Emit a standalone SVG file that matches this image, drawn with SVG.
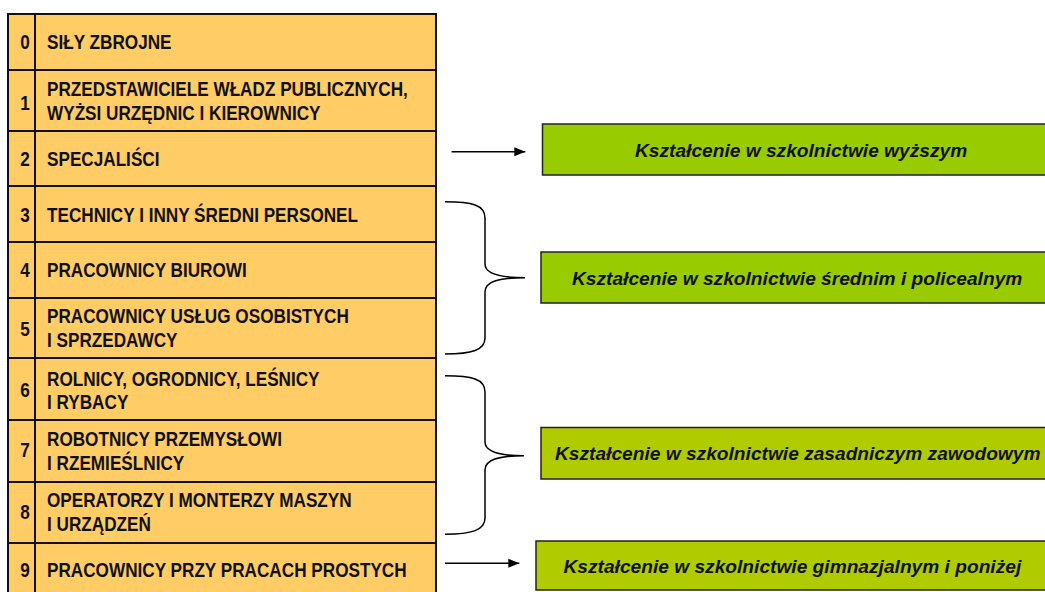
<svg xmlns="http://www.w3.org/2000/svg" width="1045" height="592" viewBox="0 0 1045 592">
<style>
.cell{fill:#FFCC66;stroke:#111;stroke-width:2}
.t{font-family:"Liberation Sans",Arial,sans-serif;font-weight:bold;font-size:19.5px;fill:#111}
.n{text-anchor:middle}
.box{stroke:#222;stroke-width:1.5}
.g1{fill:#99CC00}
.g2{fill:#B0CC00}
.gt{font-family:"Liberation Sans",Arial,sans-serif;font-weight:bold;font-style:italic;font-size:17.5px;fill:#111}
.c{fill:none;stroke:#000;stroke-width:1.5}
</style>
<defs>
<marker id="ah" markerWidth="12" markerHeight="10" refX="11" refY="5" orient="auto" markerUnits="userSpaceOnUse">
<path d="M0,0.5 L11,5 L0,9.5 Z" fill="#000"/>
</marker>
</defs>
<rect width="1045" height="592" fill="#fff"/>

<g id="row0">
<rect class="cell" x="8" y="14" width="27" height="56"/><rect class="cell" x="35" y="14" width="401" height="56"/>
<text class="t n" transform="translate(25,49.3) scale(0.88,1)">0</text>
<text class="t" transform="translate(47,49.3) scale(0.88,1)">SIŁY ZBROJNE</text>
</g>
<g id="row1">
<rect class="cell" x="8" y="70" width="27" height="61"/><rect class="cell" x="35" y="70" width="401" height="61"/>
<text class="t n" transform="translate(25,110) scale(0.88,1)">1</text>
<text class="t" transform="translate(47,96) scale(0.88,1)">PRZEDSTAWICIELE WŁADZ PUBLICZNYCH,</text>
<text class="t" transform="translate(47,120) scale(0.88,1)">WYŻSI URZĘDNIC I KIEROWNICY</text>
</g>
<g id="row2">
<rect class="cell" x="8" y="131" width="27" height="55"/><rect class="cell" x="35" y="131" width="401" height="55"/>
<text class="t n" transform="translate(25,165.7) scale(0.88,1)">2</text>
<text class="t" transform="translate(47,165.7) scale(0.88,1)">SPECJALIŚCI</text>
</g>
<g id="row3">
<rect class="cell" x="8" y="186" width="27" height="56"/><rect class="cell" x="35" y="186" width="401" height="56"/>
<text class="t n" transform="translate(25,221.7) scale(0.88,1)">3</text>
<text class="t" transform="translate(47,221.7) scale(0.88,1)">TECHNICY I INNY ŚREDNI PERSONEL</text>
</g>
<g id="row4">
<rect class="cell" x="8" y="242" width="27" height="56"/><rect class="cell" x="35" y="242" width="401" height="56"/>
<text class="t n" transform="translate(25,277.3) scale(0.88,1)">4</text>
<text class="t" transform="translate(47,277.3) scale(0.88,1)">PRACOWNICY BIUROWI</text>
</g>
<g id="row5">
<rect class="cell" x="8" y="298" width="27" height="60"/><rect class="cell" x="35" y="298" width="401" height="60"/>
<text class="t n" transform="translate(25,335.7) scale(0.88,1)">5</text>
<text class="t" transform="translate(47,323.3) scale(0.88,1)">PRACOWNICY USŁUG OSOBISTYCH</text>
<text class="t" transform="translate(47,347.3) scale(0.88,1)">I SPRZEDAWCY</text>
</g>
<g id="row6">
<rect class="cell" x="8" y="358" width="27" height="62"/><rect class="cell" x="35" y="358" width="401" height="62"/>
<text class="t n" transform="translate(25,397.3) scale(0.88,1)">6</text>
<text class="t" transform="translate(47,385.7) scale(0.88,1)">ROLNICY, OGRODNICY, LEŚNICY</text>
<text class="t" transform="translate(47,409) scale(0.88,1)">I RYBACY</text>
</g>
<g id="row7">
<rect class="cell" x="8" y="420" width="27" height="62"/><rect class="cell" x="35" y="420" width="401" height="62"/>
<text class="t n" transform="translate(25,457.3) scale(0.88,1)">7</text>
<text class="t" transform="translate(47,445.7) scale(0.88,1)">ROBOTNICY PRZEMYSŁOWI</text>
<text class="t" transform="translate(47,470) scale(0.88,1)">I RZEMIEŚLNICY</text>
</g>
<g id="row8">
<rect class="cell" x="8" y="482" width="27" height="61"/><rect class="cell" x="35" y="482" width="401" height="61"/>
<text class="t n" transform="translate(25,519.3) scale(0.88,1)">8</text>
<text class="t" transform="translate(47,506.7) scale(0.88,1)">OPERATORZY I MONTERZY MASZYN</text>
<text class="t" transform="translate(47,531) scale(0.88,1)">I URZĄDZEŃ</text>
</g>
<g id="row9">
<rect class="cell" x="8" y="543" width="27" height="62"/><rect class="cell" x="35" y="543" width="401" height="62"/>
<text class="t n" transform="translate(25,576.7) scale(0.88,1)">9</text>
<text class="t" transform="translate(47,576.7) scale(0.88,1)">PRACOWNICY PRZY PRACACH PROSTYCH</text>
</g>

<g id="edu-higher">
<rect class="box g1" x="542.5" y="124" width="520" height="51"/>
<text class="gt" transform="translate(635,157) scale(1.095,1)">Kształcenie w szkolnictwie wyższym</text>
</g>
<g id="edu-secondary">
<rect class="box g1" x="541" y="252" width="520" height="51"/>
<text class="gt" transform="translate(572,285) scale(1.095,1)">Kształcenie w szkolnictwie średnim i policealnym</text>
</g>
<g id="edu-vocational">
<rect class="box g2" x="541" y="427.5" width="520" height="51.5"/>
<text class="gt" transform="translate(555,459.5) scale(1.095,1)">Kształcenie w szkolnictwie zasadniczym zawodowym</text>
</g>
<g id="edu-lower">
<rect class="box g2" x="536" y="541" width="520" height="49"/>
<text class="gt" transform="translate(563.5,573) scale(1.095,1)">Kształcenie w szkolnictwie gimnazjalnym i poniżej</text>
</g>

<g id="connectors">
<line class="c" x1="451.6" y1="151.7" x2="525.3" y2="151.7" marker-end="url(#ah)"/>
<line class="c" x1="445" y1="563.3" x2="519.3" y2="563.3" marker-end="url(#ah)"/>
<path class="c" d="M445,201.7 C472,201.7 485,205 485,218 L485,264 C485,274 500,277.7 525,277.7 C500,277.7 485,281 485,292 L485,338 C485,350 472,354 445,354"/>
<path class="c" d="M445,375.7 C472,375.7 485,379 485,392 L485,442 C485,452 500,455.7 524,455.7 C500,455.7 485,459 485,470 L485,518 C485,530 472,534.3 445,534.3"/>
</g>
</svg>
